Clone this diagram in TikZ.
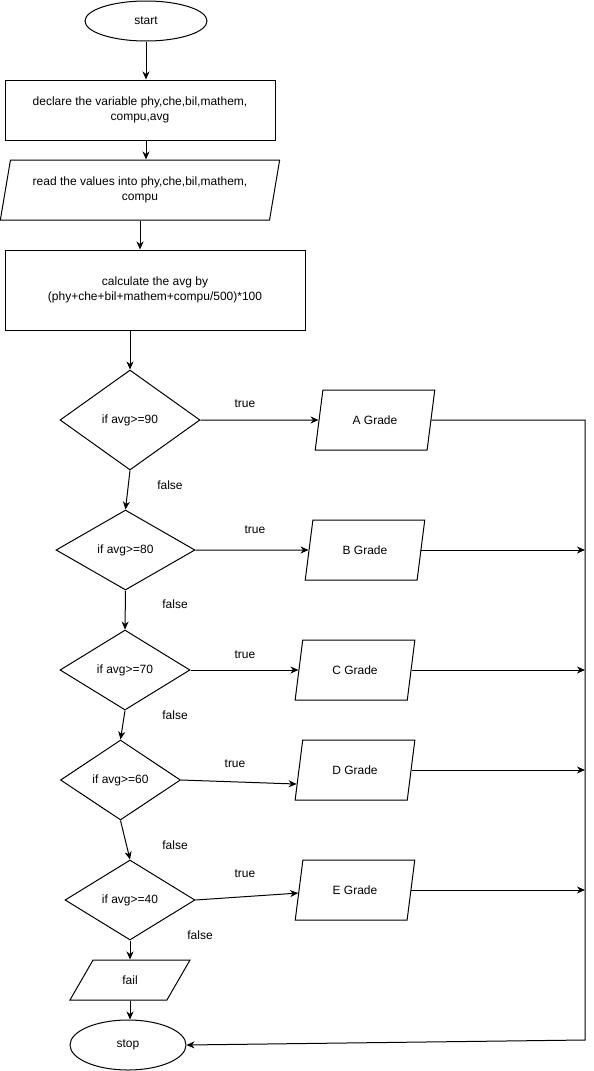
\documentclass[tikz,border=0pt]{standalone}
\usepackage{fontspec}
\setmainfont{Liberation Sans}
\usetikzlibrary{shapes.geometric,arrows.meta,calc}

\begin{document}
\begin{tikzpicture}[x=1pt,y=-1pt,
  every node/.style={font=\fontsize{12}{15}\selectfont},
  line/.style={draw=black,line width=1pt},
  arr/.style={line,-{Stealth[length=8pt,width=7pt,inset=2.5pt]}},
  terminal/.style={ellipse,draw,line width=1pt,fill=white,inner sep=0pt},
  process/.style={rectangle,draw,line width=1pt,fill=white,align=center,inner sep=0pt},
  io/.style={trapezium,trapezium stretches=true,draw,line width=1pt,fill=white,align=center,inner sep=1pt},
  grade/.style={io,trapezium left angle=72.4,trapezium right angle=107.6,minimum width=120pt,minimum height=60pt},
  decision/.style={diamond,draw,line width=1pt,fill=white,inner sep=0pt},
  lbl/.style={inner sep=0pt}
]
\useasboundingbox (0,0) rectangle (594,1071);

% main column
\node[terminal,minimum width=122pt,minimum height=40pt] (start) at (146,21) {start};
\node[process,minimum width=270pt,minimum height=60pt] (declare) at (140,110)
  {declare the variable phy,che,bil,mathem,\\compu,avg};
\node[io,trapezium left angle=73.3,trapezium right angle=106.7,minimum width=280pt,minimum height=60pt] (read) at (140,190)
  {read the values into phy,che,bil,mathem,\\compu};
\node[process,minimum width=300pt,minimum height=80pt] (calc) at (155,290)
  {calculate the avg by\\(phy+che+bil+mathem+compu/500)*100};

% decisions
\node[decision,minimum width=140pt,minimum height=100pt] (d1) at (130,420) {if avg>=90};
\node[decision,minimum width=139pt,minimum height=80pt] (d2) at (125.5,550) {if avg>=80};
\node[decision,minimum width=130pt,minimum height=80pt] (d3) at (125,670) {if avg>=70};
\node[decision,minimum width=120pt,minimum height=80pt] (d4) at (120.5,780) {if avg>=60};
\node[decision,minimum width=130pt,minimum height=80pt] (d5) at (130,900) {if avg>=40};

% outputs
\node[grade] (ag) at (375,420) {A Grade};
\node[grade] (bg) at (365,550) {B Grade};
\node[grade] (cg) at (355,670) {C Grade};
\node[grade] (dg) at (355,770) {D Grade};
\node[grade] (eg) at (355,890) {E Grade};
\node[io,trapezium left angle=63.4,trapezium right angle=116.6,minimum width=120pt,minimum height=40pt] (fail) at (130,980) {fail};
\node[terminal,minimum width=116pt,minimum height=50pt] (stop) at (128,1045) {stop};

% collecting line on the right
\coordinate (rt) at (585,420);
\coordinate (rb) at (585,1040);

% branch labels
\node[lbl] at (245,404) {true};
\node[lbl] at (255,530) {true};
\node[lbl] at (245,655) {true};
\node[lbl] at (235,764) {true};
\node[lbl] at (245,874) {true};
\node[lbl] at (170,485) {false};
\node[lbl] at (175,604) {false};
\node[lbl] at (175,715) {false};
\node[lbl] at (175,845) {false};
\node[lbl] at (200,935) {false};

% connectors
\draw[arr] (start.south) -- (start.south |- declare.north);
\draw[arr] (declare.south -| start.south) -- (read.north -| start.south);
\draw[arr] (read.south) -- (read.south |- calc.north);
\draw[arr] (calc.south -| d1.north) -- (d1.north);
\draw[arr] (d1.south) -- (d2.north);
\draw[arr] (d2.south) -- (d3.north);
\draw[arr] (d3.south) -- (d4.north);
\draw[arr] (d4.south) -- (d5.north);
\draw[arr] (d5.south) -- (d5.south |- fail.north);
\draw[arr] (fail.south) -- (fail.south |- stop.north);

\draw[arr] (d1.east) -- (ag.west);
\draw[arr] (d2.east) -- (bg.west);
\draw[arr] (d3.east) -- (cg.west);
\draw[arr] (d4.east) -- ($(dg.top left corner)!0.73!(dg.bottom left corner)$);
\draw[arr] (d5.east) -- ($(eg.top left corner)!0.55!(eg.bottom left corner)$);

\draw[arr] (ag.east) -- (rt) -- (rb) -- (stop.east);
\draw[arr] (bg.east) -- (bg.east -| rt);
\draw[arr] (cg.east) -- (cg.east -| rt);
\draw[arr] (dg.east) -- (dg.east -| rt);
\draw[arr] (eg.east) -- (eg.east -| rt);
\end{tikzpicture}
\end{document}
